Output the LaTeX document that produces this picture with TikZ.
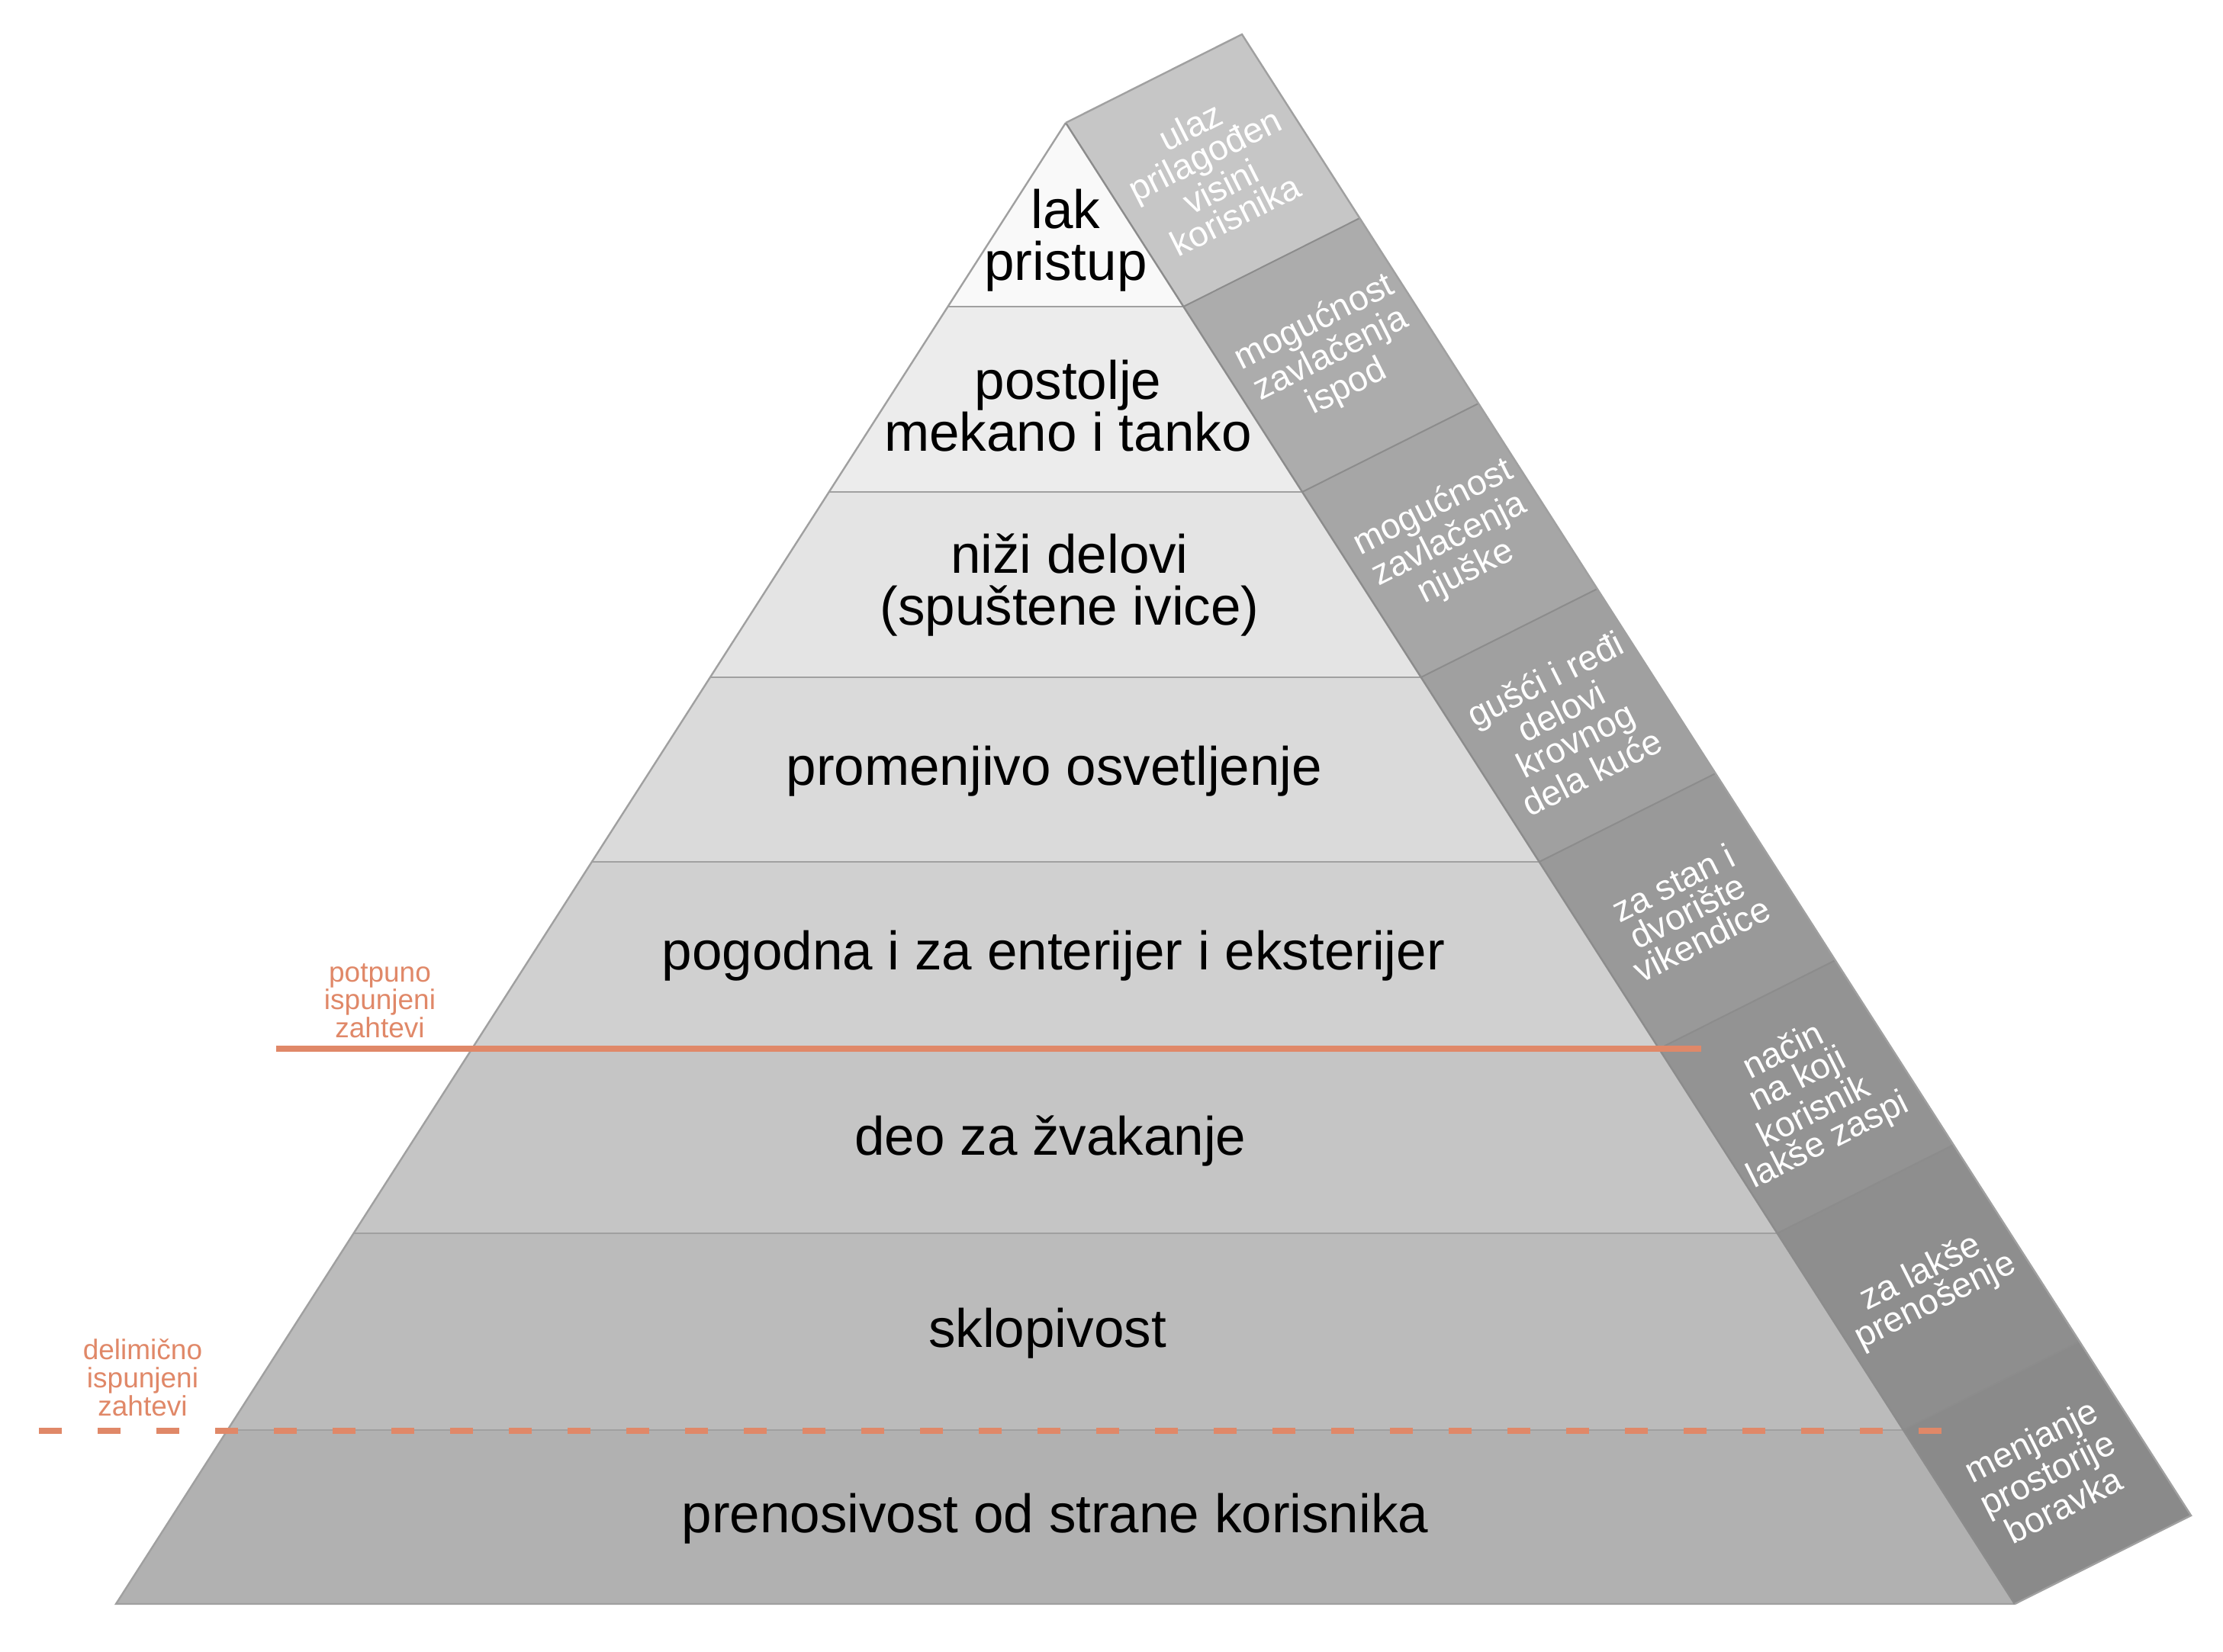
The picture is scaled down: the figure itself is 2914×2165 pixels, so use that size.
\documentclass[tikz,border=0pt]{standalone}
\usepackage{fontspec}
\setmainfont{Liberation Sans}
\usetikzlibrary{calc}
\definecolor{org}{RGB}{224,136,104}
\definecolor{edgec}{RGB}{160,160,160}
\definecolor{pedge}{RGB}{140,140,140}
\definecolor{la}{RGB}{249,249,249}
\definecolor{lb}{RGB}{236,236,236}
\definecolor{lc}{RGB}{228,228,228}
\definecolor{ld}{RGB}{218,218,218}
\definecolor{le}{RGB}{208,208,208}
\definecolor{lf}{RGB}{197,197,197}
\definecolor{lg}{RGB}{187,187,187}
\definecolor{lh}{RGB}{177,177,177}
\definecolor{pa}{RGB}{198,198,198}
\definecolor{pb}{RGB}{172,172,172}
\definecolor{pc}{RGB}{166,166,166}
\definecolor{pd}{RGB}{160,160,160}
\definecolor{pe}{RGB}{153,153,153}
\definecolor{pf}{RGB}{147,147,147}
\definecolor{pg}{RGB}{142,142,142}
\definecolor{ph}{RGB}{138,138,138}
\begin{document}
\begin{tikzpicture}[x=0.25pt,y=-0.25pt,
  edge/.style={draw=edgec, line width=0.6pt},
  lvltext/.style={font=\fontsize{17.75}{17}\selectfont, align=center, inner sep=0pt, text=black},
  paneltext/.style={font=\fontsize{11.6}{10.4}\selectfont, align=center, inner sep=0pt, text=white, rotate=26.7},
  note/.style={font=\fontsize{9.25}{9.2}\selectfont, align=center, inner sep=0pt, text=org}]
\useasboundingbox (0,0) rectangle (2914,2165);
\coordinate (A) at (1397,161);
\coordinate (BL) at (152,2103);
\coordinate (BR) at (2641,2103);
\foreach \i/\t in {0/0,1/0.12410,2/0.24923,3/0.37436,4/0.49897,5/0.62513,6/0.74974,7/0.88260,8/1}{
  \coordinate (L\i) at ($(A)!\t!(BL)$);
  \coordinate (R\i) at ($(A)!\t!(BR)$);
  \coordinate (Q\i) at ($(R\i)+(231,-116)$);
}
% layers
\foreach \i/\j/\c in {0/1/la,1/2/lb,2/3/lc,3/4/ld,4/5/le,5/6/lf,6/7/lg,7/8/lh}{
  \fill[\c] (L\i) -- (R\i) -- (R\j) -- (L\j) -- cycle;
}
\foreach \i in {1,...,7}{ \draw[edge] (L\i) -- (R\i); }
\draw[edge] (A) -- (BL) -- (BR);
% side panels
\foreach \i/\j/\c in {0/1/pa,1/2/pb,2/3/pc,3/4/pd,4/5/pe,5/6/pf,6/7/pg,7/8/ph}{
  \fill[\c] (R\i) -- (Q\i) -- (Q\j) -- (R\j) -- cycle;
}
\foreach \i in {1,...,7}{ \draw[draw=pedge, line width=0.5pt] (R\i) -- (Q\i); }
\draw[draw=pedge, line width=0.6pt] (R0) -- (R8);
\draw[draw=edgec, line width=0.6pt] (R0) -- (Q0) -- (Q8) -- (R8);
% level texts
\node[lvltext] (t1) at (1397,315) {lak\\pristup};
\node[lvltext] (t2) at (1400,532) {postolje\\mekano i tanko};
\node[lvltext] (t3) at (1402,767) {niži delovi\\(spuštene ivice)};
\node[lvltext] (t4) at (1382,1011) {promenjivo osvetljenje};
\node[lvltext] (t5) at (1381,1253) {pogodna i za enterijer i eksterijer};
\node[lvltext] (t6) at (1377,1496) {deo za žvakanje};
\node[lvltext] (t7) at (1373,1748) {sklopivost};
\node[lvltext] (t8) at (1383,1991) {prenosivost od strane korisnika};
% panel texts
\node[paneltext] (s1) at ($(R0)!0.5!(Q1)$) {ulaz\\prilagođen\\visini\\korisnika};
\node[paneltext] (s2) at ($(R1)!0.5!(Q2)$) {mogućnost\\zavlačenja\\ispod};
\node[paneltext] (s3) at ($(R2)!0.5!(Q3)$) {mogućnost\\zavlačenja\\njuške};
\node[paneltext] (s4) at ($(R3)!0.5!(Q4)$) {gušći i ređi\\delovi\\krovnog\\dela kuće};
\node[paneltext] (s5) at ($(R4)!0.5!(Q5)$) {za stan i\\dvorište\\vikendice};
\node[paneltext] (s6) at ($(R5)!0.5!(Q6)$) {način\\na koji\\korisnik\\lakše zaspi};
\node[paneltext] (s7) at ($(R6)!0.5!(Q7)$) {za lakše\\prenošenje};
\node[paneltext] (s8) at ($(R7)!0.5!(Q8)$) {menjanje\\prostorije\\boravka};
% requirement lines
\coordinate (fullA) at (362,1375);
\coordinate (fullB) at (2230,1375);
\draw[org, line width=2pt] (fullA) -- (fullB);
\coordinate (partA) at (51,1876);
\coordinate (partB) at (2547,1876);
\draw[org, line width=1.83pt, dash pattern=on 7.4pt off 11.85pt] (partA) -- (partB);
\node[note] (n1) at (498,1312) {potpuno\\ispunjeni\\zahtevi};
\node[note] (n2) at (187,1806) {delimično\\ispunjeni\\zahtevi};
\end{tikzpicture}
\end{document}
